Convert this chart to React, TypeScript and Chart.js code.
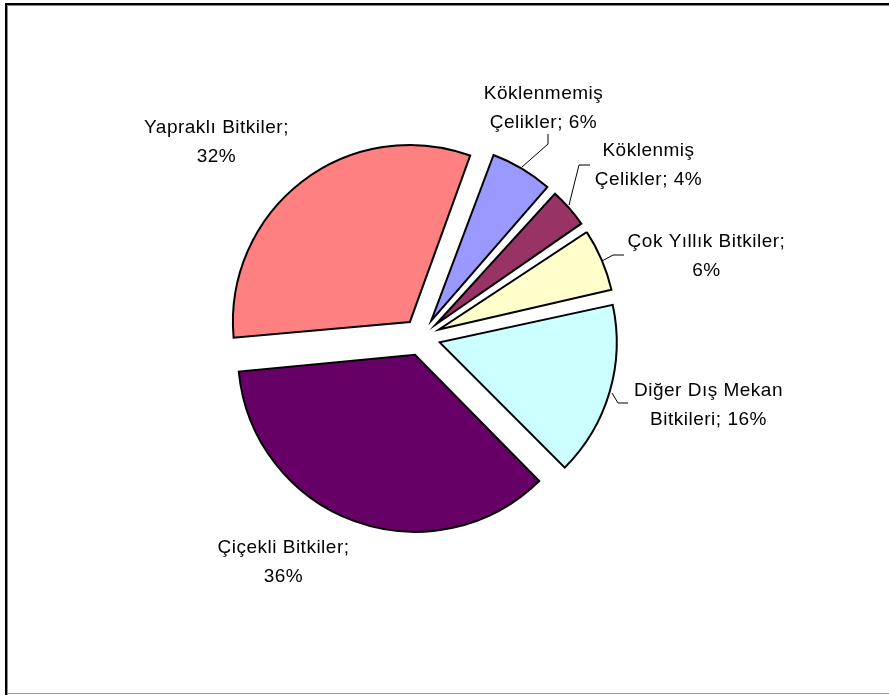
import React, { useEffect, useRef } from "react";
import { Chart, registerables } from "chart.js";

Chart.register(...registerables);

// ---- data ----
const categories = [
  "Köklenmemiş Çelikler",
  "Köklenmiş Çelikler",
  "Çok Yıllık Bitkiler",
  "Diğer Dış Mekan Bitkileri",
  "Çiçekli Bitkiler",
  "Yapraklı Bitkiler",
];
const shares = [6, 4, 6, 16, 36, 32];
const sliceColors = ["#9999FF", "#993366", "#FFFFCC", "#CCFFFF", "#660066", "#FF8080"];
// number of words on the first line of each data label
const labelBreakAfter = [1, 1, 3, 3, 2, 2];

// ---- layout (relative to pie centre) ----
const PIE_RADIUS = 177;
const EXPLODE_PX = 19;
const labelAnchors = [
  { dx: 122, dy: -238 },
  { dx: 227, dy: -181 },
  { dx: 285, dy: -90 },
  { dx: 287, dy: 59 },
  { dx: -138, dy: 216 },
  { dx: -205, dy: -204 },
];
const leaderLines: Array<Array<[number, number]> | null> = [
  [[126.5, -203], [126.5, -193], [100.5, -170]],
  [[168.5, -172], [157.5, -172], [147.5, -132]],
  [[202.5, -82], [191.5, -82], [180.5, -76]],
  [[206.5, 66], [196.5, 66], [190.5, 56]],
  null,
  null,
];
const FONT = "19px 'Liberation Sans', Arial, sans-serif";
const LINE_H = 28.5;

function buildLabel(i: number): string[] {
  const words = `${categories[i]}; ${shares[i]}%`.split(" ");
  const n = labelBreakAfter[i];
  return [words.slice(0, n).join(" "), words.slice(n).join(" ")];
}

const radiusFix = {
  id: "radiusFix",
  beforeDatasetsDraw(chart: any) {
    const meta = chart.getDatasetMeta(0);
    meta.data.forEach((el: any) => {
      const fix = 1 - Math.sin(Math.min(Math.PI, el.circumference || 0));
      el.outerRadius = PIE_RADIUS - EXPLODE_PX * fix;
    });
  },
};

const frame = {
  id: "frame",
  afterDraw(chart: any) {
    const ctx = chart.ctx;
    ctx.save();
    ctx.fillStyle = "#000";
    ctx.fillRect(5, 3, 2, 692);
    ctx.fillRect(5, 3, 884, 2);
    ctx.fillStyle = "#888";
    ctx.fillRect(7, 5, 1, 690);
    ctx.fillRect(7, 5, 882, 1);
    ctx.fillStyle = "#999";
    ctx.fillRect(7, 693, 882, 1);
    ctx.restore();
  },
};

const dataLabels = {
  id: "dataLabels",
  afterDatasetsDraw(chart: any) {
    const ctx = chart.ctx;
    const meta = chart.getDatasetMeta(0);
    if (!meta.data.length) return;
    const cx = meta.data[0].x;
    const cy = meta.data[0].y;
    ctx.save();
    ctx.strokeStyle = "#000";
    ctx.lineWidth = 1;
    leaderLines.forEach((pts) => {
      if (!pts) return;
      ctx.beginPath();
      pts.forEach(([x, y], k) => {
        if (k === 0) ctx.moveTo(cx + x, cy + y);
        else ctx.lineTo(cx + x, cy + y);
      });
      ctx.stroke();
    });
    ctx.fillStyle = "#000";
    ctx.font = FONT;
    (ctx as any).letterSpacing = "0.5px";
    ctx.textAlign = "center";
    ctx.textBaseline = "alphabetic";
    categories.forEach((_, i) => {
      const lines = buildLabel(i);
      const a = labelAnchors[i];
      lines.forEach((t, k) => {
        ctx.fillText(t, cx + a.dx, cy + a.dy + k * LINE_H);
      });
    });
    ctx.restore();
  },
};

export default function App() {
  const ref = useRef<HTMLCanvasElement | null>(null);
  useEffect(() => {
    if (!ref.current) return;
    const chart = new Chart(ref.current, {
      type: "pie",
      data: {
        labels: categories,
        datasets: [
          {
            data: shares,
            backgroundColor: sliceColors,
            borderColor: "#000",
            borderWidth: 2,
            borderJoinStyle: "miter",
            offset: EXPLODE_PX * 4,
            radius: PIE_RADIUS,
          } as any,
        ],
      },
      options: {
        responsive: false,
        animation: false,
        devicePixelRatio: 1,
        rotation: 20,
        layout: { padding: { left: 0, right: 46, top: 0, bottom: 21 } },
        plugins: {
          legend: { display: false },
          tooltip: { enabled: false },
        },
        events: [],
      },
      plugins: [radiusFix, dataLabels, frame],
    });
    return () => chart.destroy();
  }, []);
  return (
    <div style={{ position: "absolute", left: 0, top: 0, width: 889, height: 695, background: "#fff" }}>
      <canvas ref={ref} width={889} height={695} style={{ display: "block" }} />
    </div>
  );
}
